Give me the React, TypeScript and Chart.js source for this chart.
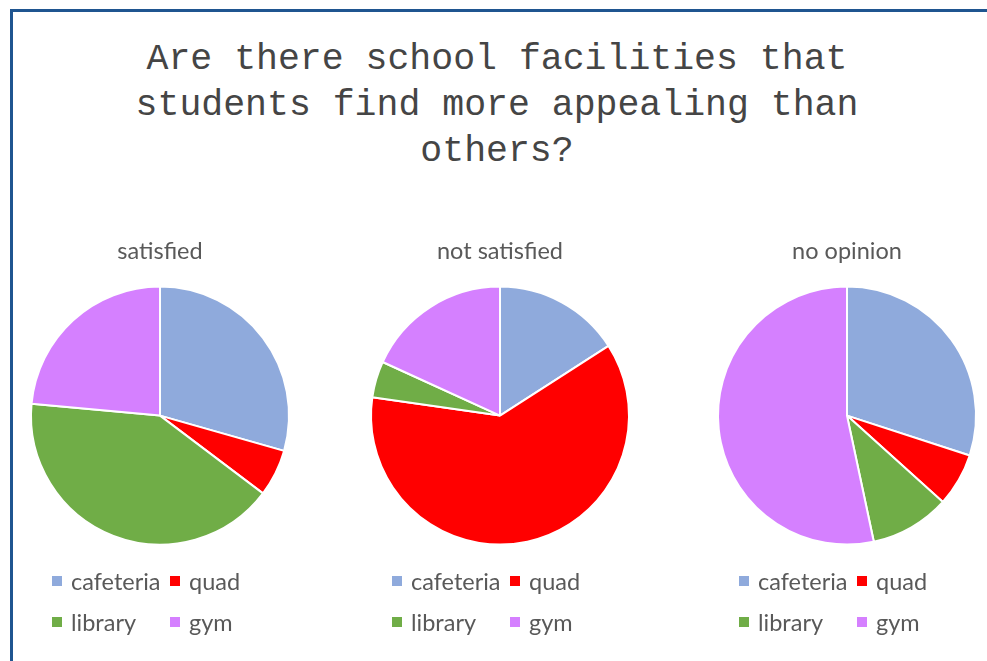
import React, { useEffect, useRef } from "react";
import { Chart, registerables } from "chart.js";

Chart.register(...registerables);

const categories = ["cafeteria", "quad", "library", "gym"];
const satisfiedValues = [5, 1, 7, 4];
const notSatisfiedValues = [7, 27, 2, 8];
const noOpinionValues = [9, 2, 3, 16];
const chartTitles = ["satisfied", "not satisfied", "no opinion"];
const mainTitleLines = [
  "Are there school facilities that",
  "students find more appealing than",
  "others?",
];
const sliceColors = ["#8FAADC", "#FF0000", "#70AD47", "#D580FF"];

const TEXT_FONT = "Lato, 'Open Sans', sans-serif";

const gridLegend = {
  id: "gridLegend",
  afterDraw(chart: any, _args: any, opts: any) {
    const { ctx, chartArea } = chart;
    const cx = (chartArea.left + chartArea.right) / 2;
    const labels: string[] = chart.data.labels;
    const ds = chart.data.datasets[0];
    ctx.save();
    ctx.font = `${opts.fontSize}px ${TEXT_FONT}`;
    ctx.textBaseline = "alphabetic";
    ctx.textAlign = "left";
    labels.forEach((lab, i) => {
      const col = i % 2;
      const row = Math.floor(i / 2);
      const x = cx + opts.startX + col * opts.colWidth;
      const base = opts.baseline + row * opts.rowHeight;
      ctx.fillStyle = ds.backgroundColor[i];
      ctx.fillRect(x, base - opts.boxLift - opts.box, opts.box, opts.box);
      ctx.fillStyle = opts.color;
      ctx.fillText(lab, x + opts.box + opts.gap, base);
    });
    ctx.restore();
  },
};

function PieChart({ title, values }: { title: string; values: number[] }) {
  const ref = useRef<HTMLCanvasElement | null>(null);
  useEffect(() => {
    if (!ref.current) return;
    const chart = new Chart(ref.current, {
      type: "pie",
      data: {
        labels: categories,
        datasets: [
          {
            data: values,
            backgroundColor: sliceColors,
            borderColor: "#FFFFFF",
            borderWidth: 2,
            radius: 129,
          } as any,
        ],
      },
      options: {
        responsive: false,
        animation: false,
        devicePixelRatio: 1,
        layout: { padding: { top: 0, bottom: 94, left: 0, right: 0 } },
        plugins: {
          legend: { display: false },
          tooltip: { enabled: false },
          title: {
            display: true,
            text: title,
            color: "#595959",
            font: { family: TEXT_FONT, size: 23.5, weight: "normal" },
            padding: { top: 7, bottom: 10 },
          },
          gridLegend: {
            fontSize: 23.5,
            color: "#595959",
            startX: -108,
            colWidth: 118,
            box: 10,
            gap: 9,
            boxLift: 4,
            baseline: 360,
            rowHeight: 41,
          },
        } as any,
      },
      plugins: [gridLegend as any],
    });
    return () => chart.destroy();
  }, [title, values]);
  return <canvas ref={ref} width={320} height={420} />;
}

export default function App() {
  const lefts = [0, 340, 687];
  const allValues = [satisfiedValues, notSatisfiedValues, noOpinionValues];
  return (
    <div
      style={{
        position: "absolute",
        left: 0,
        top: 0,
        width: 987,
        height: 661,
        overflow: "hidden",
        background: "#FFFFFF",
      }}
    >
      <div
        style={{
          position: "absolute",
          left: 10,
          top: 9,
          width: 2000,
          height: 2000,
          borderLeft: "3px solid #1F5590",
          borderTop: "3px solid #1F5590",
        }}
      />
      <div
        style={{
          position: "absolute",
          left: 97,
          top: 37,
          width: 800,
          textAlign: "center",
          fontFamily: "'Liberation Mono', 'Courier New', monospace",
          fontSize: 36.5,
          lineHeight: "46px",
          color: "#454545",
          whiteSpace: "pre",
        }}
      >
        {mainTitleLines.map((l, i) => (
          <div key={i}>{l}</div>
        ))}
      </div>
      {chartTitles.map((t, i) => (
        <div key={t} style={{ position: "absolute", left: lefts[i], top: 230 }}>
          <PieChart title={t} values={allValues[i]} />
        </div>
      ))}
    </div>
  );
}
